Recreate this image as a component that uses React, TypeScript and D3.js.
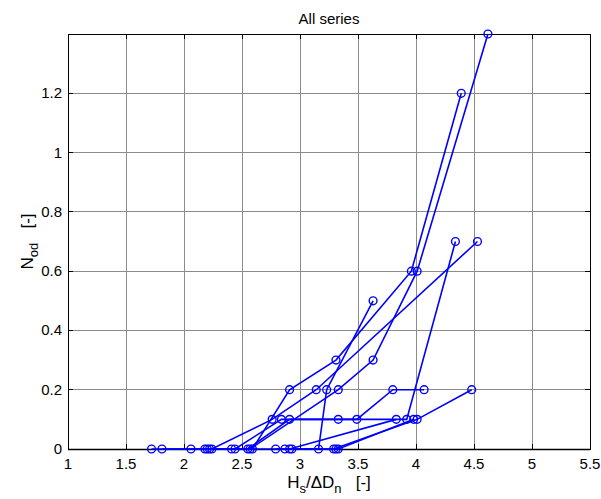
import React from "react";
import * as d3 from "d3";

type Pt = [number, number];

const series1: Pt[] = [[1.72, 0], [2.20, 0], [2.59, 0], [2.91, 0.2], [3.31, 0.3], [3.96, 0.6], [4.39, 1.2]];
const series2: Pt[] = [[1.81, 0], [2.57, 0], [3.33, 0.2], [3.63, 0.3], [4.01, 0.6], [4.62, 1.4]];
const series3: Pt[] = [[2.06, 0], [2.44, 0], [2.84, 0.1], [3.33, 0.1], [3.92, 0.1], [4.34, 0.7]];
const series4: Pt[] = [[2.18, 0], [2.24, 0], [2.76, 0.1], [3.14, 0.2], [4.53, 0.7]];
const series5: Pt[] = [[2.41, 0], [2.55, 0], [2.91, 0.1], [3.49, 0.1], [3.80, 0.2], [4.07, 0.2]];
const series6: Pt[] = [[2.79, 0], [3.16, 0], [3.23, 0.2], [3.63, 0.5]];
const series7: Pt[] = [[2.87, 0], [3.29, 0], [4.01, 0.1], [4.48, 0.2]];
const series8: Pt[] = [[2.93, 0], [3.31, 0], [3.33, 0], [3.98, 0.1]];
const series9: Pt[] = [[2.22, 0], [2.91, 0], [3.83, 0.1]];

const allSeries: Pt[][] = [series1, series2, series3, series4, series5, series6, series7, series8, series9];

const xTicks = [1, 1.5, 2, 2.5, 3, 3.5, 4, 4.5, 5, 5.5];
const yTicks = [0, 0.2, 0.4, 0.6, 0.8, 1, 1.2, 1.4];
const yTickLabels = ["0", "0.2", "0.4", "0.6", "0.8", "1", "1.2", ""];

const W = 601;
const H = 499;
const left = 68;
const right = 590;
const top = 34;
const bottom = 449;

export default function App() {
  const x = d3.scaleLinear().domain([1, 5.5]).range([left, right]);
  const y = d3.scaleLinear().domain([0, 1.4]).range([bottom, top]);
  const line = d3.line<Pt>().x((d) => x(d[0])).y((d) => y(d[1]));
  const font = "'Liberation Sans', Arial, Helvetica, sans-serif";
  const blue = "#0000ff";
  return (
    <svg width={W} height={H} style={{ position: "absolute", left: 0, top: 0, background: "#fff" }} fontFamily={font}>
      <rect x={0} y={0} width={W} height={H} fill="#fff" />
      {xTicks.slice(1, -1).map((t) => (
        <line key={"gx" + t} x1={x(t)} x2={x(t)} y1={top} y2={bottom} stroke="#8c8c8c" strokeWidth={1} shapeRendering="crispEdges" />
      ))}
      {yTicks.slice(1, -1).map((t) => (
        <line key={"gy" + t} x1={left} x2={right} y1={y(t)} y2={y(t)} stroke="#8c8c8c" strokeWidth={1} shapeRendering="crispEdges" />
      ))}
      {xTicks.map((t) => (
        <g key={"tx" + t}>
          <line x1={x(t)} x2={x(t)} y1={bottom} y2={bottom - 5} stroke="#000" shapeRendering="crispEdges" />
          <line x1={x(t)} x2={x(t)} y1={top} y2={top + 5} stroke="#000" shapeRendering="crispEdges" />
          <text x={x(t)} y={bottom + 20} fontSize={15} textAnchor="middle" fill="#000">{t}</text>
        </g>
      ))}
      {yTicks.map((t, i) => (
        <g key={"ty" + t}>
          <line x1={left} x2={left + 5} y1={y(t)} y2={y(t)} stroke="#000" shapeRendering="crispEdges" />
          <line x1={right} x2={right - 5} y1={y(t)} y2={y(t)} stroke="#000" shapeRendering="crispEdges" />
          <text x={left - 6} y={y(t) + 5} fontSize={15} textAnchor="end" fill="#000">{yTickLabels[i]}</text>
        </g>
      ))}
      <rect x={left} y={top} width={right - left} height={bottom - top} fill="none" stroke="#000" strokeWidth={1} shapeRendering="crispEdges" />
      <line x1={left} x2={right} y1={bottom + 0.5} y2={bottom + 0.5} stroke="#000" strokeWidth={1.5} />
      {allSeries.map((s, i) => (
        <g key={"s" + i}>
          <path d={line(s) || ""} fill="none" stroke={blue} strokeWidth={1.6} />
          {s.map((p, j) => (
            <circle key={j} cx={x(p[0])} cy={y(p[1])} r={3.9} fill="none" stroke={blue} strokeWidth={1.4} />
          ))}
        </g>
      ))}
      <text x={(left + right) / 2} y={top - 10} fontSize={15} textAnchor="middle" fill="#000">All series</text>
      <text x={(left + right) / 2} y={H - 11} fontSize={17} textAnchor="middle" fill="#000">
        <tspan>H</tspan>
        <tspan fontSize={13} dy={5}>s</tspan>
        <tspan dy={-5}>/ΔD</tspan>
        <tspan fontSize={13} dy={5}>n</tspan>
        <tspan dy={-5} xmlSpace="preserve">{"   [-]"}</tspan>
      </text>
      <text transform={`translate(33, ${(top + bottom) / 2}) rotate(-90)`} fontSize={17} textAnchor="middle" fill="#000">
        <tspan>N</tspan>
        <tspan fontSize={13} dy={5}>od</tspan>
        <tspan dy={-5} xmlSpace="preserve">{"   [-]"}</tspan>
      </text>
    </svg>
  );
}
